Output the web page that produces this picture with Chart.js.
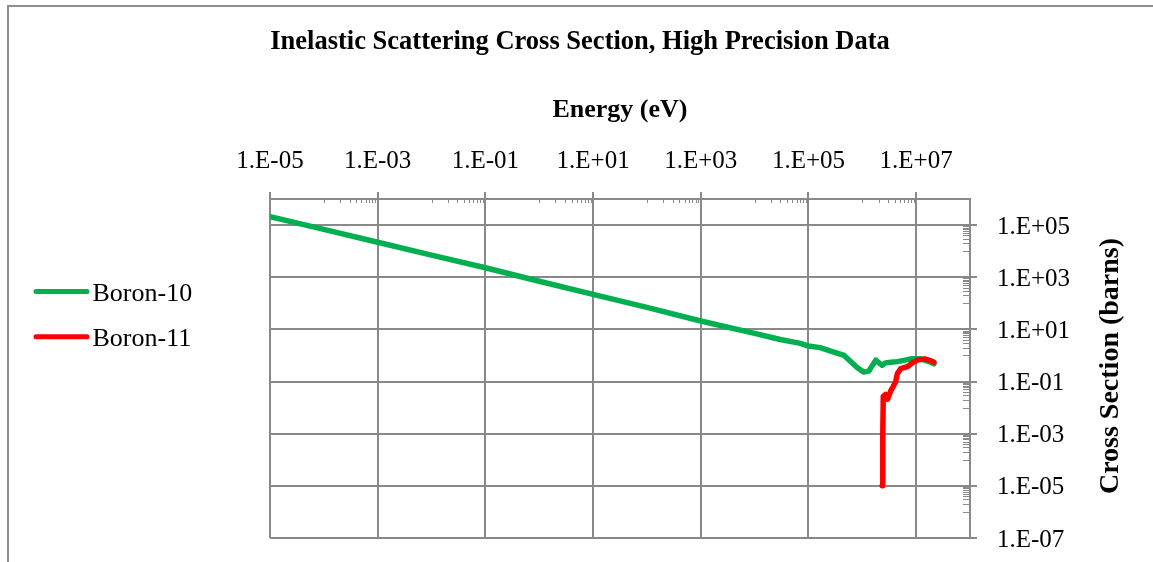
<!DOCTYPE html>
<html><head><meta charset="utf-8">
<script src="https://cdn.jsdelivr.net/npm/chart.js@4.4.1/dist/chart.umd.min.js"></script>
<style>
html,body{margin:0;padding:0;background:#fff;}
#wrap{position:relative;width:1153px;height:562px;overflow:hidden;}
#frame{position:absolute;left:7px;top:5px;width:1300px;height:700px;border:2px solid #8e8e8e;box-sizing:border-box;}
canvas{position:absolute;left:0;top:0;}
</style></head><body>
<div id="wrap"><div id="frame"></div><canvas id="c" width="1153" height="562"></canvas></div>
<script>
const chartTitle = 'Inelastic Scattering Cross Section, High Precision Data';
const xAxisTitle = 'Energy (eV)';
const yAxisTitle = 'Cross Section (barns)';
const seriesNames = ['Boron-10', 'Boron-11'];
const seriesColors = ['#00B050', '#FF0000'];

const b10Energy = [1e-5, 1e-4, 1e-3, 1e-2, 1e-1, 1, 10, 100, 1e3, 1e4, 3.0e4, 7.1e4, 1.0e5, 1.66e5, 2.95e5, 4.6e5, 6.0e5, 8.1e5, 1.07e6, 1.32e6, 1.51e6, 1.78e6, 2.04e6, 2.34e6, 2.69e6, 3.39e6, 4.47e6, 5.89e6, 7.94e6, 1.2e7, 1.86e7, 2.14e7];
const b10Sigma  = [2.1e5, 6.8e4, 2.2e4, 7.0e3, 2.3e3, 7.0e2, 2.2e2, 70, 21, 7.0, 4.1, 2.9, 2.3, 2.0, 1.35, 1.0, 0.60, 0.34, 0.23, 0.25, 0.39, 0.66, 0.52, 0.42, 0.52, 0.55, 0.58, 0.65, 0.74, 0.74, 0.55, 0.48];

const b11Energy = [2.34e6, 2.40e6, 2.45e6, 2.69e6, 2.95e6, 3.39e6, 3.72e6, 4.17e6, 4.47e6, 5.13e6, 6.92e6, 8.5e6, 1.05e7, 1.41e7, 1.86e7, 2.14e7];
const b11Sigma  = [1.0e-5, 1.0e-3, 0.027, 0.032, 0.021, 0.045, 0.063, 0.10, 0.20, 0.31, 0.37, 0.52, 0.66, 0.74, 0.63, 0.55];

const xTickValues = [1e-5, 1e-3, 1e-1, 1e1, 1e3, 1e5, 1e7];
const xTickLabels = ['1.E-05', '1.E-03', '1.E-01', '1.E+01', '1.E+03', '1.E+05', '1.E+07'];
const yTickValues = [1e-7, 1e-5, 1e-3, 1e-1, 1e1, 1e3, 1e5];
const yTickLabels = ['1.E-07', '1.E-05', '1.E-03', '1.E-01', '1.E+01', '1.E+03', '1.E+05'];
const xMinorDecades = [1e-4, 1e-2, 1, 1e2, 1e4, 1e6];
const yMinorDecades = [1e-6, 1e-4, 1e-2, 1, 1e2, 1e4];
const minorSteps = [1, 2, 3, 4, 5, 6, 7, 8, 9];

const GRID = '#898989';
const serif = '"Liberation Serif", "Times New Roman", serif';
const toPts = (xs, ys) => xs.map((x, i) => ({x: x, y: ys[i]}));

const decor = {
  id: 'decor',
  afterDraw(chart) {
    const ctx = chart.ctx, xs = chart.scales.x, ys = chart.scales.y, a = chart.chartArea;
    ctx.save();
    ctx.strokeStyle = GRID; ctx.lineWidth = 1;
    ctx.beginPath();
    xMinorDecades.forEach(d => minorSteps.forEach(m => {
      const px = Math.round(xs.getPixelForValue(d * m)) + 0.5;
      ctx.moveTo(px, a.top); ctx.lineTo(px, a.top + 4);
    }));
    yMinorDecades.forEach(d => minorSteps.forEach(m => {
      const py = Math.round(ys.getPixelForValue(d * m)) + 0.5;
      ctx.moveTo(a.right, py); ctx.lineTo(a.right - 7, py);
    }));
    ctx.stroke();

    ctx.fillStyle = '#000';
    ctx.textAlign = 'center'; ctx.textBaseline = 'alphabetic';
    ctx.font = 'bold 26.5px ' + serif;
    ctx.fillText(chartTitle, 580, 49);

    ctx.save();
    ctx.translate(1111, 366);
    ctx.rotate(-Math.PI / 2);
    ctx.textBaseline = 'middle';
    ctx.font = 'bold 28px ' + serif;
    ctx.fillText(yAxisTitle, 0, 0);
    ctx.restore();

    chart.data.datasets.forEach((ds, i) => {
      const y = 291.5 + i * 45.2;
      ctx.strokeStyle = ds.borderColor; ctx.lineWidth = 5; ctx.lineCap = 'round';
      ctx.beginPath(); ctx.moveTo(36, y); ctx.lineTo(87, y); ctx.stroke();
      ctx.font = '26px ' + serif; ctx.textAlign = 'left'; ctx.textBaseline = 'alphabetic';
      ctx.fillText(ds.label, 92.5, y + 9.2);
    });
    ctx.restore();
  }
};

new Chart(document.getElementById('c'), {
  type: 'line',
  data: {
    datasets: [
      {label: seriesNames[0], data: toPts(b10Energy, b10Sigma), borderColor: seriesColors[0], backgroundColor: seriesColors[0],
       borderWidth: 5.5, pointRadius: 0, fill: false, tension: 0, borderCapStyle: 'round', borderJoinStyle: 'round', order: 1},
      {label: seriesNames[1], data: toPts(b11Energy, b11Sigma), borderColor: seriesColors[1], backgroundColor: seriesColors[1],
       borderWidth: 5.5, pointRadius: 0, fill: false, tension: 0, borderCapStyle: 'round', borderJoinStyle: 'round', order: 0}
    ]
  },
  options: {
    responsive: false, animation: false, devicePixelRatio: 1,
    layout: {padding: {left: 270, right: 0, top: 0, bottom: 24}},
    plugins: {legend: {display: false}, title: {display: false}, tooltip: {enabled: false}},
    scales: {
      x: {
        type: 'logarithmic', position: 'top', min: 1e-5, max: 1e8,
        afterFit: s => { s.height = 199; s.paddingLeft = 0; s.paddingRight = 0; },
        afterBuildTicks: s => { s.ticks = xTickValues.map(v => ({value: v})); },
        ticks: {autoSkip: false, maxRotation: 0, padding: 16, color: '#000', font: {family: serif, size: 25},
                callback: (v, i) => xTickLabels[i]},
        grid: {color: GRID, lineWidth: 2, tickLength: 7, tickColor: GRID, drawTicks: true},
        border: {color: GRID, width: 2},
        title: {display: true, text: xAxisTitle, color: '#000', font: {family: serif, size: 26, weight: 'bold'}, padding: {top: 95, bottom: 0}}
      },
      y: {
        type: 'logarithmic', position: 'right', min: 1e-7, max: 1e6,
        afterFit: s => { s.width = 183; s.paddingTop = 0; s.paddingBottom = 0; },
        afterBuildTicks: s => { s.ticks = yTickValues.map(v => ({value: v})); },
        ticks: {autoSkip: false, padding: 20, labelOffset: 2, color: '#000', font: {family: serif, size: 25},
                callback: (v, i) => yTickLabels[i]},
        grid: {color: GRID, lineWidth: 2, tickLength: 7, tickColor: GRID, drawTicks: true},
        border: {color: GRID, width: 2}
      }
    }
  },
  plugins: [decor]
});
</script>
</body></html>
